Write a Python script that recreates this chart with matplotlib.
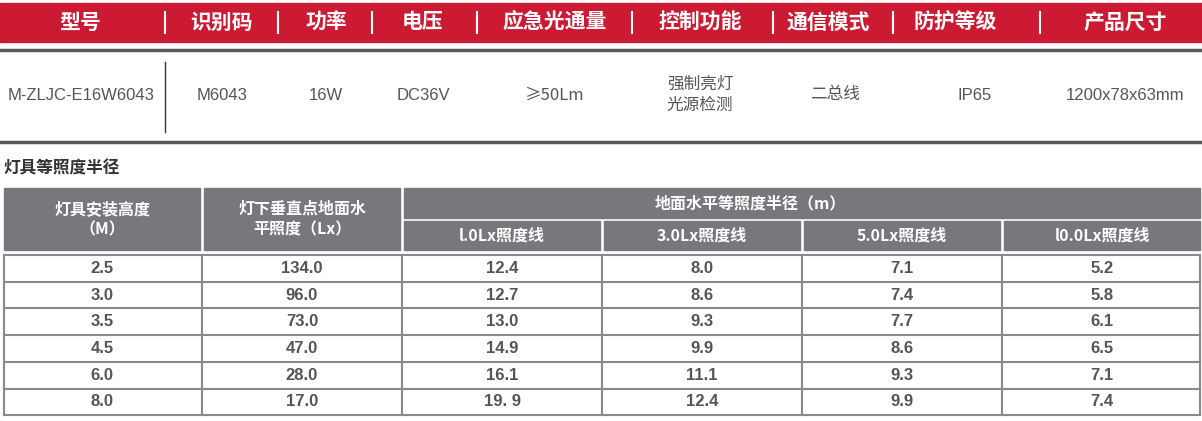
import matplotlib
matplotlib.use("Agg")
import matplotlib.pyplot as plt
from matplotlib.patches import Rectangle

plt.rcParams['font.family'] = ['Noto Sans CJK SC', 'DejaVu Sans']
LAT = ['Liberation Sans', 'Noto Sans CJK SC']

spec_headers = ["型号", "识别码", "功率", "电压", "应急光通量", "控制功能", "通信模式", "防护等级", "产品尺寸"]
spec_values = ["M-ZLJC-E16W6043", "M6043", "16W", "DC36V", "≥50Lm", "强制亮灯\n光源检测", "二总线", "IP65", "1200x78x63mm"]
section_title = "灯具等照度半径"
col_heads = ["灯具安装高度\n（M）", "灯下垂直点地面水\n平照度（Lx）"]
group_head = "地面水平等照度半径（m）"
sub_heads = ["l.0Lx照度线", "3.0Lx照度线", "5.0Lx照度线", "l0.0Lx照度线"]
heights = ["2.5", "3.0", "3.5", "4.5", "6.0", "8.0"]
illum = ["134.0", "96.0", "73.0", "47.0", "28.0", "17.0"]
r1 = ["12.4", "12.7", "13.0", "14.9", "16.1", "19. 9"]
r3 = ["8.0", "8.6", "9.3", "9.9", "11.1", "12.4"]
r5 = ["7.1", "7.4", "7.7", "8.6", "9.3", "9.9"]
r10 = ["5.2", "5.8", "6.1", "6.5", "7.1", "7.4"]

fig = plt.figure(figsize=(12.02, 4.21), dpi=100)
ax = fig.add_axes([0, 0, 1, 1])
ax.set_xlim(0, 1202); ax.set_ylim(421, 0); ax.axis('off')

red = '#CB1A32'
ax.add_patch(Rectangle((0, 3), 1202, 39, color=red))
hx = [80, 222, 326, 423, 555, 700, 828, 955, 1125]
seps = [165, 278, 372, 477, 632, 773, 893, 1040]
for x, t in zip(hx, spec_headers):
    ax.text(x, 22, t, color='white', fontsize=15, fontweight='bold', ha='center', va='center')
for x in seps:
    ax.plot([x, x], [12, 33], color='white', lw=1.5)
ax.plot([0, 1202], [50, 50], color='#58595B', lw=2.5)
ax.plot([0, 1202], [142, 142], color='#58595B', lw=2.5)
ax.plot([165, 165], [62, 132], color='#333', lw=1)
vx = [81, 222, 326, 423, 555, 700, 835, 975, 1125]
for x, t in zip(vx, spec_values):
    fam = plt.rcParams['font.family'] if any(ord(c) > 0x2000 for c in t) else LAT
    ax.text(x, 95, t, color='#555', fontsize=12, ha='center', va='center', linespacing=1.35, family=fam)

ax.text(3, 168, section_title, color='#333', fontsize=12, fontweight='bold', ha='left', va='center')

gray = '#77787B'
cols = [(4, 200), (204, 400), (404, 600), (604, 800), (804, 1000), (1004, 1200)]
ax.add_patch(Rectangle((4, 188), 196, 62, color=gray))
ax.add_patch(Rectangle((204, 188), 196, 62, color=gray))
ax.add_patch(Rectangle((404, 188), 796, 30, color=gray))
for (a, b) in cols[2:]:
    ax.add_patch(Rectangle((a, 221), b - a, 29, color=gray))
for (a, b), t in zip(cols[:2], col_heads):
    ax.text((a + b) / 2, 219, t, color='white', fontsize=11.5, fontweight='bold', ha='center', va='center', linespacing=1.35)
ax.text(750, 203, group_head, color='white', fontsize=11.5, fontweight='bold', ha='center', va='center')
for (a, b), t in zip(cols[2:], sub_heads):
    ax.text((a + b) / 2, 236, t, color='white', fontsize=11.5, fontweight='bold', ha='center', va='center')

top, rh = 255, 26.7
lc = '#8A8A8A'
n = len(heights)
for i in range(n + 1):
    ax.plot([4, 1200], [top + i * rh, top + i * rh], color=lc, lw=1.5)
for x in [4, 202, 402, 602, 802, 1002, 1200]:
    ax.plot([x, x], [top, top + n * rh], color=lc, lw=1.5)
for i in range(n):
    y = top + (i + 0.5) * rh
    for (a, b), t in zip(cols, [heights[i], illum[i], r1[i], r3[i], r5[i], r10[i]]):
        ax.text((a + b) / 2, y, t, color='#555', fontsize=12, fontweight='bold', ha='center', va='center', family=LAT)

fig.savefig('out.png', dpi=100)
